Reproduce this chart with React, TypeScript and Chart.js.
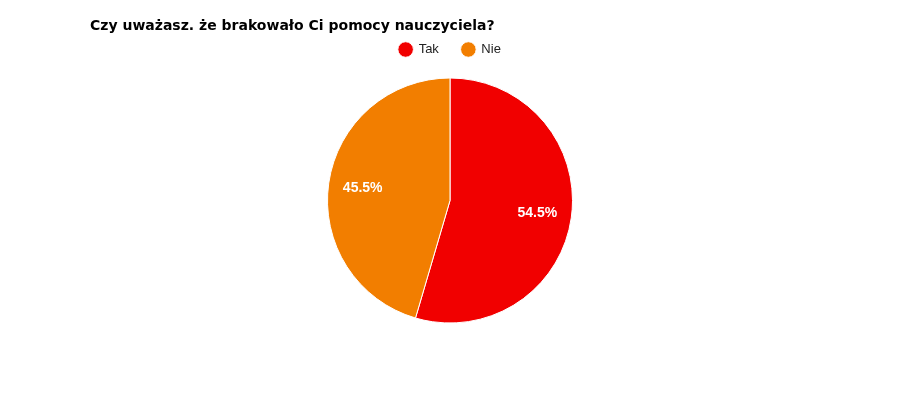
import React, { useEffect, useRef } from "react";
import { Chart, registerables } from "chart.js";

Chart.register(...registerables);

const titleText = "Czy uważasz. że brakowało Ci pomocy nauczyciela?";
const categories = ["Tak", "Nie"];
const values = [6, 5];
const colors = ["#f10000", "#f27e00"];

const titlePlugin = {
  id: "leftTitle",
  afterDraw(chart: any) {
    const ctx = chart.ctx;
    ctx.save();
    ctx.fillStyle = "#000000";
    ctx.font = "bold 14px 'DejaVu Sans', Verdana, sans-serif";
    ctx.textAlign = "left";
    ctx.textBaseline = "alphabetic";
    ctx.fillText(titleText, 90, 30);
    ctx.restore();
  },
};

const pieLabels = {
  id: "pieLabels",
  afterDatasetsDraw(chart: any) {
    const ctx = chart.ctx;
    const meta = chart.getDatasetMeta(0);
    const data = chart.data.datasets[0].data as number[];
    const total = data.reduce((a, b) => a + b, 0);
    ctx.save();
    ctx.fillStyle = "#ffffff";
    ctx.font = "bold 14px 'Liberation Sans', Arial, sans-serif";
    ctx.textAlign = "center";
    ctx.textBaseline = "middle";
    meta.data.forEach((arc: any, i: number) => {
      const { x, y, startAngle, endAngle, outerRadius } = arc.getProps(
        ["x", "y", "startAngle", "endAngle", "outerRadius"],
        true
      );
      const mid = (startAngle + endAngle) / 2;
      const r = outerRadius * 0.72;
      const pct = ((data[i] / total) * 100).toFixed(1) + "%";
      ctx.fillText(pct, x + Math.cos(mid) * r, y + Math.sin(mid) * r);
    });
    ctx.restore();
  },
};

export default function App() {
  const ref = useRef<HTMLCanvasElement | null>(null);
  useEffect(() => {
    if (!ref.current) return;
    const chart = new Chart(ref.current, {
      type: "pie",
      data: {
        labels: categories,
        datasets: [
          {
            data: values,
            backgroundColor: colors,
            borderColor: "#ffffff",
            borderWidth: 1,
          },
        ],
      },
      options: {
        animation: false,
        responsive: false,
        radius: 122.5,
        layout: { padding: { left: 90, right: 90, top: 20, bottom: 65 } },
        plugins: {
          title: { display: false },
          legend: {
            display: true,
            position: "top",
            labels: {
              usePointStyle: true,
              pointStyle: "circle",
              boxWidth: 13,
              boxHeight: 11,
              color: "#222222",
              font: { family: "'Liberation Sans', Arial, sans-serif", size: 13 },
              padding: 23,
            },
          },
          tooltip: { enabled: false },
        },
      },
      plugins: [pieLabels, titlePlugin],
    });
    return () => chart.destroy();
  }, []);
  return (
    <div style={{ position: "fixed", left: 0, top: 0, width: 900, height: 400, background: "#fff" }}>
      <canvas ref={ref} width={900} height={400} />
    </div>
  );
}
